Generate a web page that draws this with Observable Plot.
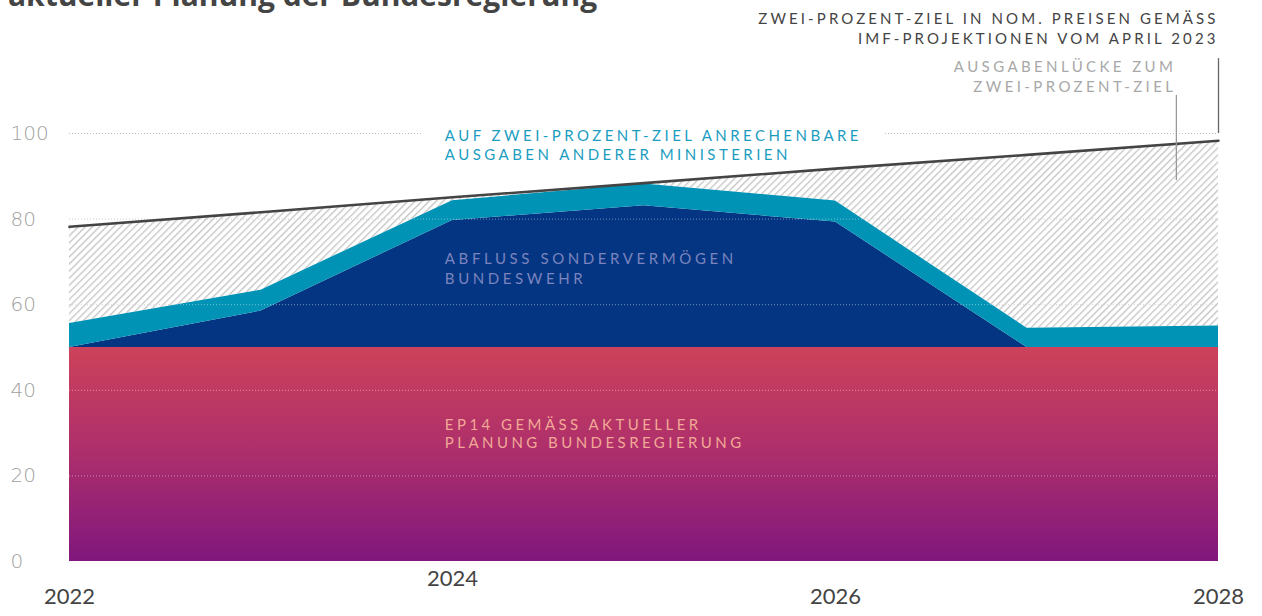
<!DOCTYPE html>
<html><head><meta charset="utf-8">
<script src="https://cdn.jsdelivr.net/npm/d3@7"></script>
<script src="https://cdn.jsdelivr.net/npm/@observablehq/plot@0.6"></script>
<style>
body{margin:0;background:#fff;}
#wrap{position:relative;width:1262px;height:616px;overflow:hidden;}
#title{position:absolute;left:8px;top:-20px;margin:0;font:700 30px/30px "Open Sans",sans-serif;color:#444;white-space:nowrap;}
#chart svg{display:block;}
</style></head><body>
<div id="wrap"><div id="chart"></div><h1 id="title">aktueller Planung der Bundesregierung</h1></div>
<script>
// ---- data (values in bn EUR) ----
const years = [2022, 2023, 2024, 2025, 2026, 2027, 2028];
const ep14 = [50, 50, 50, 50, 50, 50, 50];                       // EP14 gemäß aktueller Planung
const sondervermoegen = [0, 8.5, 29.7, 33.1, 29.3, 0, 0];       // Abfluss Sondervermögen Bundeswehr
const andereMinisterien = [5.6, 4.9, 4.6, 5.1, 4.9, 4.5, 5.0];  // anrechenbare Ausgaben anderer Ministerien
const zweiProzentZiel = [78.2, 81.6, 85.1, 88.4, 91.8, 95.0, 98.3];
const yTicks = [0, 20, 40, 60, 80, 100];
const xTicks = [2022, 2024, 2026, 2028];

const labelTarget = ["ZWEI-PROZENT-ZIEL IN NOM. PREISEN GEMÄSS\nIMF-PROJEKTIONEN VOM APRIL 2023"];
const labelGap = ["AUSGABENLÜCKE ZUM\nZWEI-PROZENT-ZIEL"];
const labelOther = ["AUF ZWEI-PROZENT-ZIEL ANRECHENBARE\nAUSGABEN ANDERER MINISTERIEN"];
const labelSV = ["ABFLUSS SONDERVERMÖGEN\nBUNDESWEHR"];
const labelEP = ["EP14 GEMÄSS AKTUELLER\nPLANUNG BUNDESREGIERUNG"];

// annotation anchors (data units)
const annTarget = {x: 2028, y: 124.8, ruleY1: 100, ruleY2: 117.5};
const annGap = {x: 2027.78, y: 113.6, ruleY1: 89, ruleY2: 108.9};
const annSeries = {x: 2023.96, other: 97.5, sv: 68.6, ep: 29.9};

const rows = years.map((year, i) => {
  const base = ep14[i];
  const sv = base + sondervermoegen[i];
  const other = sv + andereMinisterien[i];
  return {year, base, sv, other, target: zweiProzentZiel[i]};
});

const defs = () => {
  const d = d3.create("svg:defs");
  const g = d.append("linearGradient").attr("id", "ep14grad")
    .attr("x1", 0).attr("y1", 0).attr("x2", 0).attr("y2", 1);
  g.append("stop").attr("offset", "0%").attr("stop-color", "#cd425a");
  g.append("stop").attr("offset", "50%").attr("stop-color", "#ac2e6c");
  g.append("stop").attr("offset", "100%").attr("stop-color", "#80177d");
  const p = d.append("pattern").attr("id", "hatch").attr("patternUnits", "userSpaceOnUse")
    .attr("width", 5).attr("height", 5).attr("patternTransform", "rotate(45)");
  p.append("rect").attr("x", 0).attr("y", 0).attr("width", 1.3).attr("height", 5)
    .attr("fill", "#c4c4c4");
  return d.node();
};

const annFont = {fontSize: 15, lineHeight: 1.28, fontWeight: 400};

const plot = Plot.plot({
  width: 1262, height: 616,
  marginLeft: 69, marginRight: 44, marginTop: 133, marginBottom: 55,
  x: {domain: [2022, 2028], axis: null},
  y: {domain: [0, 100], axis: null},
  style: {fontFamily: "Lato, sans-serif", overflow: "visible", background: "white"},
  marks: [
    defs,
    Plot.ruleY(yTicks.filter(d => d > 0), {y: d => d, stroke: "#bdbdbd", strokeDasharray: "1,2", strokeWidth: 1}),
    Plot.areaY(rows, {x: "year", y1: "other", y2: "target", fill: "url(#hatch)"}),
    Plot.areaY(rows, {x: "year", y1: 0, y2: "base", fill: "url(#ep14grad)"}),
    Plot.areaY(rows, {x: "year", y1: "base", y2: "sv", fill: "#033583"}),
    Plot.areaY(rows, {x: "year", y1: "sv", y2: "other", fill: "#0193b5"}),
    Plot.ruleY(yTicks.filter(d => d > 0 && d < 100), {y: d => d, stroke: "white", strokeOpacity: 0.45, strokeDasharray: "1,2", strokeWidth: 1}),
    Plot.text(labelOther, {x: () => annSeries.x, y: () => annSeries.other, text: d => d, textAnchor: "start", fill: "#1b9dc1", ...annFont}),
    Plot.line(rows, {x: "year", y: "target", stroke: "#444", strokeWidth: 2.6}),
    // annotation rules
    Plot.ruleX([annTarget], {x: "x", y1: "ruleY1", y2: "ruleY2", stroke: "#666", strokeWidth: 1.3}),
    Plot.ruleX([annGap], {x: "x", y1: "ruleY1", y2: "ruleY2", stroke: "#999", strokeWidth: 1.3}),
    // annotation labels
    Plot.text(labelTarget, {x: () => annTarget.x, y: () => annTarget.y, text: d => d, textAnchor: "end", fill: "#444", ...annFont, lineHeight: 1.33}),
    Plot.text(labelGap, {x: () => annGap.x, y: () => annGap.y, text: d => d, textAnchor: "end", fill: "#a8a8a8", ...annFont, lineHeight: 1.33}),
    Plot.text(labelSV, {x: () => annSeries.x, y: () => annSeries.sv, text: d => d, textAnchor: "start", fill: "#7b84bd", ...annFont}),
    Plot.text(labelEP, {x: () => annSeries.x, y: () => annSeries.ep, text: d => d, textAnchor: "start", fill: "#f2a896", ...annFont, lineHeight: 1.2}),
    // axes as text
    Plot.text(yTicks, {y: d => d, text: d => String(d), frameAnchor: "left", textAnchor: "start", dx: -59, fill: "#9f9f9f", fontSize: 20, fontWeight: 200, fontFamily: "DejaVu Sans"}),
    Plot.text(xTicks.filter(d => d !== 2024), {x: d => d, text: d => String(d), frameAnchor: "bottom", dy: 42, fill: "#444", fontSize: 22}),
    Plot.text(xTicks.filter(d => d === 2024), {x: d => d, text: d => String(d), frameAnchor: "bottom", dy: 24, fill: "#444", fontSize: 22})
  ]
});

document.getElementById("chart").appendChild(plot);
const svg = d3.select(plot);
const allLabels = [labelTarget, labelGap, labelOther, labelSV, labelEP].map(a => a[0].replace(/\s+/g, ""));
const spacing = ["3.1px", "3.4px", "3.45px", "3.6px", "3.45px"];
svg.selectAll("text").each(function() {
  const t = this.textContent.replace(/\s+/g, "");
  const idx = allLabels.indexOf(t);
  if (idx < 0) return;
  this.style.letterSpacing = spacing[idx];
  this.querySelectorAll("tspan").forEach(s => s.style.letterSpacing = spacing[idx]);
  if (idx === 2) {
    // white box behind the first line only: interrupts the 100 gridline
    const b = this.getBBox();
    d3.select(this.parentNode).insert("rect", () => this)
      .attr("transform", this.getAttribute("transform"))
      .attr("x", b.x - 22).attr("y", b.y - 2).attr("width", b.width + 44).attr("height", b.height / 2 + 2)
      .attr("fill", "white");
  }
});
</script>
</body></html>
